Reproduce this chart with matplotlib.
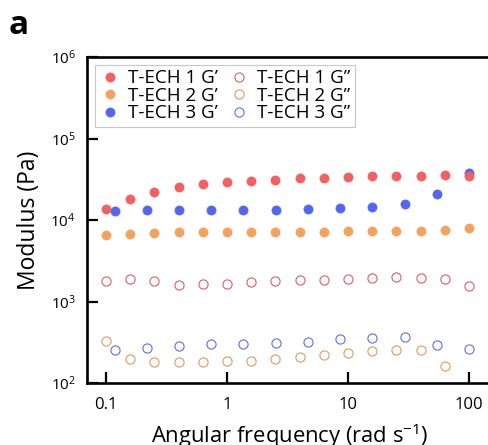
import matplotlib
matplotlib.use("Agg")
import matplotlib.pyplot as plt
from matplotlib.ticker import FixedLocator, FixedFormatter, NullLocator

FONT = 'Open Sans'
plt.rcParams['font.family'] = [FONT, 'DejaVu Sans']
plt.rcParams['mathtext.fontset'] = 'custom'
plt.rcParams['mathtext.rm'] = FONT
plt.rcParams['mathtext.it'] = FONT + ':italic'
plt.rcParams['mathtext.bf'] = FONT + ':bold'

# Frequencies (rad/s)
freq_12 = [0.1, 0.158, 0.251, 0.398, 0.631, 1.0, 1.58, 2.51, 3.98, 6.31,
           10.0, 15.8, 25.1, 39.8, 63.1, 100.0]
freq_3 = [0.119, 0.218, 0.40, 0.738, 1.36, 2.54, 4.67, 8.6, 15.8, 29.6, 54.5, 100.0]

# Storage modulus G' (Pa)
g1_storage = [13650, 18100, 22100, 25400, 27700, 29300, 30500, 31200, 32500,
              33000, 33700, 34400, 35000, 35000, 35300, 34400]
g2_storage = [6550, 6790, 6920, 7060, 7060, 7130, 7060, 7130, 7130, 7180,
              7260, 7260, 7330, 7390, 7540, 7910]
g3_storage = [13000, 13150, 13270, 13270, 13270, 13400, 13650, 13930, 14330,
              15850, 20650, 38000]

# Loss modulus G'' (Pa)
g1_loss = [1800, 1888, 1785, 1608, 1625, 1653, 1720, 1771, 1821, 1850, 1888,
           1927, 2000, 1960, 1888, 1538]
g2_loss = [330, 197, 181, 181, 180, 188, 188, 195, 207, 219, 235, 245, 256,
           254, 162]
g3_loss = [254, 271, 287, 304, 304, 310, 319, 344, 359, 367, 293, 264]

labels = ["T-ECH 1 G\u2019", "T-ECH 2 G\u2019", "T-ECH 3 G\u2019",
          "T-ECH 1 G\u201d", "T-ECH 2 G\u201d", "T-ECH 3 G\u201d"]

red = '#f26062'
orange = '#f2a35e'
blue = '#5366f2'
red_e = '#dd5c66'
orange_e = '#e0995f'
blue_e = '#5f6ee8'

W, H = 488, 445
fig = plt.figure(figsize=(W / 100, H / 100), dpi=100)
ax = fig.add_axes([87 / W, (H - 383) / H, 406 / W, 326 / H])

ms = 6.6
h3, = ax.plot(freq_3, g3_storage, 'o', ms=ms, color=blue, mec=blue, mew=0.5, zorder=2)
h1, = ax.plot(freq_12, g1_storage, 'o', ms=ms, color=red, mec=red, mew=0.5, zorder=3)
h2, = ax.plot(freq_12, g2_storage, 'o', ms=ms, color=orange, mec=orange, mew=0.5, zorder=3)
l1, = ax.plot(freq_12, g1_loss, 'o', ms=ms, mfc='none', mec=red_e, mew=0.8, zorder=3)
l2, = ax.plot(freq_12[:len(g2_loss)], g2_loss, 'o', ms=ms, mfc='none', mec=orange_e, mew=0.8, zorder=3)
l3, = ax.plot(freq_3, g3_loss, 'o', ms=ms, mfc='none', mec=blue_e, mew=0.8, zorder=3)

ax.set_xscale('log')
ax.set_yscale('log')
ax.set_xlim(0.0697, 157.8)
ax.set_ylim(1e2, 1e6)

ax.xaxis.set_major_locator(FixedLocator([0.1, 1, 10, 100]))
ax.xaxis.set_major_formatter(FixedFormatter(['0.1', '1', '10', '100']))
ax.xaxis.set_minor_locator(NullLocator())
ax.yaxis.set_major_locator(FixedLocator([1e2, 1e3, 1e4, 1e5, 1e6]))
ax.yaxis.set_major_formatter(FixedFormatter([r'$\mathregular{10^{%d}}$' % k for k in range(2, 7)]))
ax.yaxis.set_minor_locator(NullLocator())

for s in ax.spines.values():
    s.set_linewidth(1.9)
ax.tick_params(axis='x', direction='in', length=8, width=1.6, labelsize=12, pad=10)
ax.tick_params(axis='y', direction='in', length=8, width=1.6, labelsize=11, pad=8)

ax.set_xlabel('Angular frequency (rad s$^{\\mathregular{-1}}$)', fontsize=15.8, labelpad=6)
ax.set_ylabel('Modulus (Pa)', fontsize=16.5, labelpad=7)

leg = ax.legend([h1, h2, h3, l1, l2, l3], labels, ncol=2, loc='upper left',
                fontsize=13.5, handlelength=1.2, handletextpad=0.35,
                columnspacing=0.5, labelspacing=-0.02, borderaxespad=0.4,
                borderpad=0.25, fancybox=False, framealpha=1)
leg.get_frame().set_edgecolor('#c8c8c8')
leg.get_frame().set_linewidth(0.8)

fig.text(9 / W, (H - 34) / H, 'a', fontsize=24, fontweight='bold', va='baseline')

fig.savefig('out.png', dpi=100)
